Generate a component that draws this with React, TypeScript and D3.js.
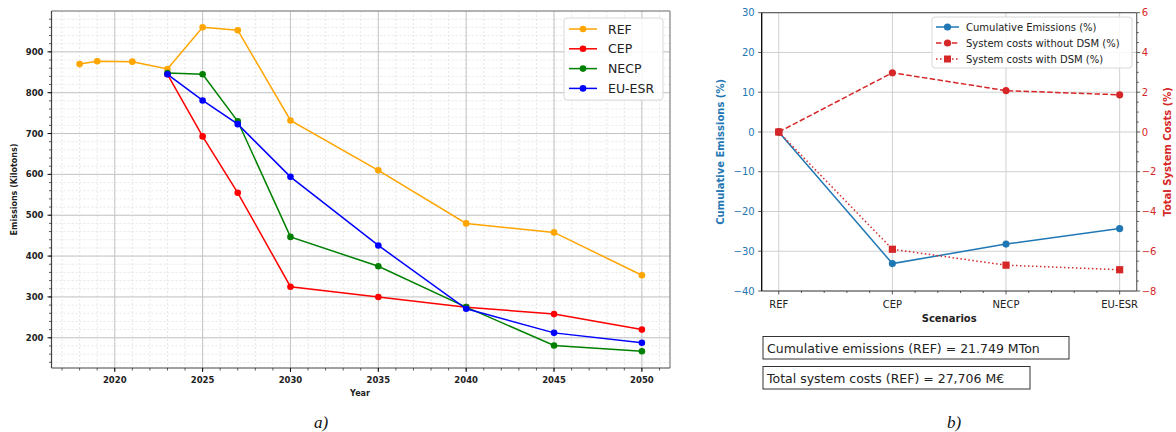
import React from 'react';
import * as d3 from 'd3';

// panel a) emissions per scenario
const refYears = [2018, 2019, 2021, 2023, 2025, 2027, 2030, 2035, 2040, 2045, 2050];
const refValues = [870, 877, 876, 858, 960, 953, 732, 610, 480, 458, 353];
const policyYears = [2023, 2025, 2027, 2030, 2035, 2040, 2045, 2050];
const cepValues = [845, 693, 555, 325, 300, 275, 258, 220];
const necpValues = [848, 845, 730, 447, 375, 275, 181, 167];
const euEsrValues = [845, 781, 723, 594, 426, 271, 212, 188];

const yearTicks = [2020, 2025, 2030, 2035, 2040, 2045, 2050];
const emissionTicks = [200, 300, 400, 500, 600, 700, 800, 900];

// panel b) relative changes
const scenarios = ['REF', 'CEP', 'NECP', 'EU-ESR'];
const cumEmissions = [0, -33.1, -28.2, -24.3];
const costsNoDsm = [0, 2.98, 2.08, 1.87];
const costsDsm = [0, -5.9, -6.7, -6.93];
const leftTicks = [30, 20, 10, 0, -10, -20, -30, -40];
const rightTicks = [6, 4, 2, 0, -2, -4, -6, -8];

const FONT = 'DejaVu Sans, sans-serif';
const BLUE = '#1f77b4';
const RED = '#d62728';

const minus = (v: number) => (v < 0 ? '\u2212' + Math.abs(v) : String(v));

function PanelA() {
  const x = d3.scaleLinear().domain([2016.4, 2051.6]).range([51.5, 670]);
  const y = d3.scaleLinear().domain([126, 1000]).range([368, 11]);
  const [x0, x1] = x.range();
  const [y0, y1] = y.range();
  const minorX = d3.range(2017, 2052, 1);
  const minorY = d3.range(140, 1000, 20);
  const line = d3.line<[number, number]>().x(d => x(d[0])).y(d => y(d[1]));

  const series = [
    { name: 'REF', color: '#ffa500', years: refYears, values: refValues },
    { name: 'CEP', color: '#ff0000', years: policyYears, values: cepValues },
    { name: 'NECP', color: '#008000', years: policyYears, values: necpValues },
    { name: 'EU-ESR', color: '#0000ff', years: policyYears, values: euEsrValues },
  ];

  return (
    <g>
      {minorX.map(v => (
        <line key={'mx' + v} x1={x(v)} x2={x(v)} y1={y1} y2={y0} stroke="#d6d6d6" strokeWidth={0.6} strokeDasharray="2,2" />
      ))}
      {minorY.map(v => (
        <line key={'my' + v} x1={x0} x2={x1} y1={y(v)} y2={y(v)} stroke="#d6d6d6" strokeWidth={0.6} strokeDasharray="2,2" />
      ))}
      {yearTicks.map(v => (
        <line key={'gx' + v} x1={x(v)} x2={x(v)} y1={y1} y2={y0} stroke="#c4c4c4" strokeWidth={1} />
      ))}
      {emissionTicks.map(v => (
        <line key={'gy' + v} x1={x0} x2={x1} y1={y(v)} y2={y(v)} stroke="#c4c4c4" strokeWidth={1} />
      ))}

      {series.map(s => {
        const pts = s.years.map((yr, i) => [yr, s.values[i]] as [number, number]);
        return (
          <g key={s.name}>
            <path d={line(pts) || ''} fill="none" stroke={s.color} strokeWidth={1.5} />
            {pts.map((p, i) => (
              <circle key={i} cx={x(p[0])} cy={y(p[1])} r={3.3} fill={s.color} />
            ))}
          </g>
        );
      })}

      <line x1={x0} x2={x1} y1={y1} y2={y1} stroke="#999" strokeWidth={1.5} />
      <line x1={x1} x2={x1} y1={y1} y2={y0} stroke="#999" strokeWidth={1.5} />
      <line x1={x0} x2={x0} y1={y1} y2={y0} stroke="#444" strokeWidth={1.2} />
      <line x1={x0} x2={x1} y1={y0} y2={y0} stroke="#444" strokeWidth={1.2} />

      {minorX.map(v => (
        <line key={'tx' + v} x1={x(v)} x2={x(v)} y1={y0} y2={y0 + 2.5} stroke="#333" strokeWidth={0.8} />
      ))}
      {minorY.map(v => (
        <line key={'ty' + v} x1={x0} x2={x0 - 2.5} y1={y(v)} y2={y(v)} stroke="#333" strokeWidth={0.8} />
      ))}
      {yearTicks.map(v => (
        <g key={'lx' + v}>
          <line x1={x(v)} x2={x(v)} y1={y0} y2={y0 + 4} stroke="#111" strokeWidth={1} />
          <text x={x(v)} y={y0 + 15} textAnchor="middle" fontFamily={FONT} fontSize={8.5} fontWeight="bold" fill="#222">{v}</text>
        </g>
      ))}
      {emissionTicks.map(v => (
        <g key={'ly' + v}>
          <line x1={x0} x2={x0 - 4} y1={y(v)} y2={y(v)} stroke="#111" strokeWidth={1} />
          <text x={x0 - 8} y={y(v) + 3} textAnchor="end" fontFamily={FONT} fontSize={8.5} fontWeight="bold" fill="#222">{v}</text>
        </g>
      ))}

      <text x={360} y={396} textAnchor="middle" fontFamily={FONT} fontSize={8} fontWeight="bold" fill="#222">Year</text>
      <text transform={`translate(17,${(y0 + y1) / 2}) rotate(-90)`} textAnchor="middle" fontFamily={FONT} fontSize={8} fontWeight="bold" fill="#222">Emissions (Kilotons)</text>

      <rect x={564} y={18} width={99} height={82} rx={3} fill="white" fillOpacity={0.85} stroke="#d8d8d8" />
      {series.map((s, i) => (
        <g key={'lg' + s.name} transform={`translate(0,${29 + i * 19.8})`}>
          <line x1={569} x2={597} y1={0} y2={0} stroke={s.color} strokeWidth={1.5} />
          <circle cx={583} cy={0} r={3.3} fill={s.color} />
          <text x={608} y={4.5} fontFamily={FONT} fontSize={12.5} fill="#222">{s.name}</text>
        </g>
      ))}

      <text x={321} y={428} textAnchor="middle" fontFamily="Liberation Serif, serif" fontStyle="italic" fontSize={17} fill="#111">a)</text>
    </g>
  );
}

function PanelB() {
  const x = d3.scaleLinear().domain([-0.15, 3.15]).range([761.7, 1136.7]);
  const yL = d3.scaleLinear().domain([-40, 30]).range([291, 12.7]);
  const yR = d3.scaleLinear().domain([-8, 6]).range([291, 12.7]);
  const [x0, x1] = x.range();
  const [y0, y1] = yL.range();
  const minorX = d3.range(0, 3.01, 0.2).filter(v => Math.abs(v - Math.round(v)) > 0.01);
  const minorR = d3.range(-7.5, 6, 0.5).filter(v => Math.abs(v / 2 - Math.round(v / 2)) > 0.01);
  const idx = scenarios.map((_, i) => i);

  const lineL = d3.line<number>().x(i => x(i)).y(i => yL(cumEmissions[i]));
  const lineR1 = d3.line<number>().x(i => x(i)).y(i => yR(costsNoDsm[i]));
  const lineR2 = d3.line<number>().x(i => x(i)).y(i => yR(costsDsm[i]));

  const legend = [
    { label: 'Cumulative Emissions (%)', color: BLUE, dash: '', marker: 'circle' },
    { label: 'System costs without DSM (%)', color: RED, dash: '5.5,2.4', marker: 'circle' },
    { label: 'System costs with DSM (%)', color: RED, dash: '1.5,2.5', marker: 'square' },
  ];

  return (
    <g>
      {idx.map(i => (
        <line key={'gx' + i} x1={x(i)} x2={x(i)} y1={y1} y2={y0} stroke="#d0d0d0" strokeWidth={1} />
      ))}
      {leftTicks.map(v => (
        <line key={'gy' + v} x1={x0} x2={x1} y1={yL(v)} y2={yL(v)} stroke="#d0d0d0" strokeWidth={1} />
      ))}

      <path d={lineL(idx) || ''} fill="none" stroke={BLUE} strokeWidth={1.5} />
      {idx.map(i => (
        <circle key={'c' + i} cx={x(i)} cy={yL(cumEmissions[i])} r={3.6} fill={BLUE} />
      ))}
      <path d={lineR1(idx) || ''} fill="none" stroke={RED} strokeWidth={1.5} strokeDasharray="5.5,2.4" />
      {idx.map(i => (
        <circle key={'r1' + i} cx={x(i)} cy={yR(costsNoDsm[i])} r={3.6} fill={RED} />
      ))}
      <path d={lineR2(idx) || ''} fill="none" stroke={RED} strokeWidth={1.5} strokeDasharray="1.5,2.5" />
      {idx.map(i => (
        <rect key={'r2' + i} x={x(i) - 3.6} y={yR(costsDsm[i]) - 3.6} width={7.2} height={7.2} fill={RED} />
      ))}

      <line x1={x0} x2={x1} y1={y1} y2={y1} stroke="#666" strokeWidth={1.2} />
      <line x1={x1} x2={x1} y1={y1} y2={y0} stroke="#666" strokeWidth={1.2} />
      <line x1={x0} x2={x1} y1={y0} y2={y0} stroke="#444" strokeWidth={1.2} />
      <line x1={x0} x2={x0} y1={y1} y2={y0} stroke="#000" strokeWidth={1.3} />

      {minorX.map(v => (
        <line key={'mx' + v} x1={x(v)} x2={x(v)} y1={y0} y2={y0 + 2} stroke="#333" strokeWidth={0.8} />
      ))}
      {scenarios.map((s, i) => (
        <g key={'lx' + s}>
          <line x1={x(i)} x2={x(i)} y1={y0} y2={y0 + 3.5} stroke="#333" strokeWidth={0.8} />
          <text x={x(i)} y={y0 + 17} textAnchor="middle" fontFamily={FONT} fontSize={10} fill="#222">{s}</text>
        </g>
      ))}
      {leftTicks.map(v => (
        <g key={'ly' + v}>
          <line x1={x0} x2={x0 - 3.5} y1={yL(v)} y2={yL(v)} stroke="#333" strokeWidth={0.8} />
          <text x={x0 - 7} y={yL(v) + 3.6} textAnchor="end" fontFamily={FONT} fontSize={10} fill={BLUE}>{minus(v)}</text>
        </g>
      ))}
      {minorR.map(v => (
        <line key={'mr' + v} x1={x1} x2={x1 + 2} y1={yR(v)} y2={yR(v)} stroke="#333" strokeWidth={0.8} />
      ))}
      {rightTicks.map(v => (
        <g key={'ry' + v}>
          <line x1={x1} x2={x1 + 3.5} y1={yR(v)} y2={yR(v)} stroke="#333" strokeWidth={0.8} />
          <text x={x1 + 5} y={yR(v) + 3.6} textAnchor="start" fontFamily={FONT} fontSize={10} fill={RED}>{minus(v)}</text>
        </g>
      ))}

      <text x={(x0 + x1) / 2} y={322} textAnchor="middle" fontFamily={FONT} fontSize={10} fontWeight="bold" fill="#222">Scenarios</text>
      <text transform={`translate(724,${(y0 + y1) / 2}) rotate(-90)`} textAnchor="middle" fontFamily={FONT} fontSize={10} fontWeight="bold" fill={BLUE}>Cumulative Emissions (%)</text>
      <text transform={`translate(1171,${(y0 + y1) / 2}) rotate(-90)`} textAnchor="middle" fontFamily={FONT} fontSize={10} fontWeight="bold" fill={RED}>Total System Costs (%)</text>

      <rect x={932} y={17} width={200} height={51} rx={3} fill="white" fillOpacity={0.85} stroke="#d8d8d8" />
      {legend.map((l, i) => (
        <g key={l.label} transform={`translate(0,${27 + i * 16})`}>
          <line x1={936} x2={959} y1={0} y2={0} stroke={l.color} strokeWidth={1.5} strokeDasharray={l.dash || undefined} />
          {l.marker === 'circle'
            ? <circle cx={947.5} cy={0} r={3.6} fill={l.color} />
            : <rect x={944} y={-3.5} width={7} height={7} fill={l.color} />}
          <text x={966} y={3.6} fontFamily={FONT} fontSize={10} fill="#222">{l.label}</text>
        </g>
      ))}

      <rect x={763} y={336.5} width={306} height={22.5} fill="white" stroke="#333" strokeWidth={1} />
      <text x={767} y={352.5} fontFamily={FONT} fontSize={12.5} fill="#222">Cumulative emissions (REF) = 21.749 MTon</text>
      <rect x={763} y={366.5} width={267} height={22.5} fill="white" stroke="#333" strokeWidth={1} />
      <text x={767} y={382.5} fontFamily={FONT} fontSize={12.5} fill="#222">Total system costs (REF) = 27,706 M€</text>

      <text x={954} y={428} textAnchor="middle" fontFamily="Liberation Serif, serif" fontStyle="italic" fontSize={17} fill="#111">b)</text>
    </g>
  );
}

export default function App() {
  return (
    <svg
      width={1176}
      height={432}
      viewBox="0 0 1176 432"
      style={{ position: 'absolute', left: 0, top: 0, background: 'white' }}
    >
      <PanelA />
      <PanelB />
    </svg>
  );
}
